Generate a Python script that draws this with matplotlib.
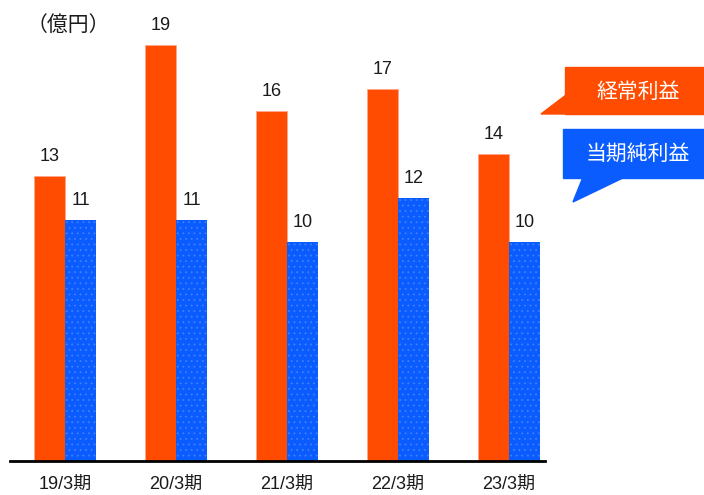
import matplotlib
matplotlib.use("Agg")
import matplotlib.pyplot as plt
from matplotlib.patches import Polygon

plt.rcParams['font.family'] = ['Liberation Sans', 'Noto Sans CJK JP']
plt.rcParams['hatch.linewidth'] = 0.6

periods = ['19/3期', '20/3期', '21/3期', '22/3期', '23/3期']
ordinary_profit = [13, 19, 16, 17, 14]
net_profit = [11, 11, 10, 12, 10]
unit_label = '（億円）'
series_names = ['経常利益', '当期純利益']

ORANGE = '#FF4C00'
BLUE = '#0A5CFF'
TEXT = '#1a1a1a'

W, H = 704, 495
fig = plt.figure(figsize=(W / 100, H / 100), dpi=100)

# axes placed in pixel units: x 10..545, baseline at y=461 from top
ax = fig.add_axes([10 / W, 34 / H, 535 / W, 461 / H])
px_per_unit = 21.9
ax.set_ylim(0, 461 / px_per_unit)
spacing = 111
ax.set_xlim((10 - 65) / spacing, (545 - 65) / spacing)
bw = 31 / spacing

x = list(range(len(periods)))
ax.bar([i - bw / 2 for i in x], ordinary_profit, width=bw, color=ORANGE,
       edgecolor='#FFA58C', linewidth=0.6)
ax.bar([i + bw / 2 for i in x], net_profit, width=bw, color=BLUE,
       edgecolor='#3F80FF', hatch='...', linewidth=0)

for i in x:
    ax.annotate(str(ordinary_profit[i]), (i - bw / 2, ordinary_profit[i]),
                xytext=(0, 15), textcoords='offset pixels', ha='center',
                va='baseline', fontsize=13, color=TEXT)
    ax.annotate(str(net_profit[i]), (i + bw / 2, net_profit[i]),
                xytext=(0, 15), textcoords='offset pixels', ha='center',
                va='baseline', fontsize=13, color=TEXT)

for s in ['top', 'right', 'left']:
    ax.spines[s].set_visible(False)
ax.spines['bottom'].set_linewidth(2)
ax.spines['bottom'].set_color('black')
ax.set_yticks([])
ax.set_xticks(x)
ax.set_xticklabels(periods, fontsize=13, color=TEXT)
ax.tick_params(axis='x', length=0, pad=11)


def to_fig(pts):
    # pixel coordinates measured from the top-left corner
    return [(px / W, 1 - py / H) for px, py in pts]


fig.text(68 / W, 1 - 25 / H, unit_label, fontsize=15, color=TEXT,
         ha='center', va='center', family=['Noto Sans CJK JP'])

# callout labels
for pts, col in [
    ([(565, 67), (704, 67), (704, 114), (565, 114)], ORANGE),
    ([(541, 114), (566, 95), (566, 114)], ORANGE),
    ([(563, 129), (704, 129), (704, 178), (563, 178)], BLUE),
    ([(583, 177), (625, 177), (573, 202)], BLUE),
]:
    fig.patches.append(Polygon(to_fig(pts), closed=True, color=col,
                               transform=fig.transFigure))
fig.text(638 / W, 1 - 92 / H, series_names[0], fontsize=15, color='white',
         ha='center', va='center')
fig.text(638 / W, 1 - 154 / H, series_names[1], fontsize=15, color='white',
         ha='center', va='center')

fig.savefig('out.png', dpi=100)
